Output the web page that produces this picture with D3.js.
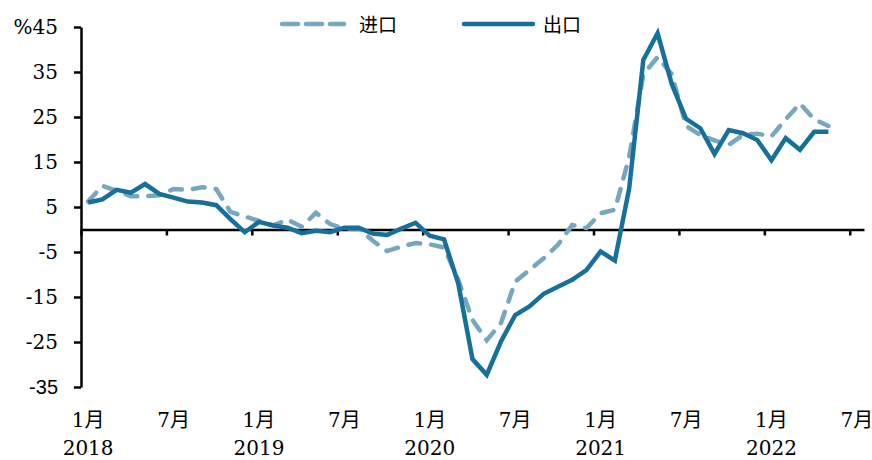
<!DOCTYPE html>
<html>
<head>
<meta charset="utf-8">
<script src="https://cdn.jsdelivr.net/npm/d3@7"></script>
<style>
  body { margin: 0; background: #fff; }
  svg { display: block; }
</style>
</head>
<body>
<div id="chart"></div>
<script>
// months on the category axis, Jan 2018 .. Jul 2022
var months = [
  "2018-01","2018-02","2018-03","2018-04","2018-05","2018-06","2018-07","2018-08","2018-09","2018-10","2018-11","2018-12",
  "2019-01","2019-02","2019-03","2019-04","2019-05","2019-06","2019-07","2019-08","2019-09","2019-10","2019-11","2019-12",
  "2020-01","2020-02","2020-03","2020-04","2020-05","2020-06","2020-07","2020-08","2020-09","2020-10","2020-11","2020-12",
  "2021-01","2021-02","2021-03","2021-04","2021-05","2021-06","2021-07","2021-08","2021-09","2021-10","2021-11","2021-12",
  "2022-01","2022-02","2022-03","2022-04","2022-05","2022-06","2022-07"
];

// 进口 (imports), Jan 2018 .. May 2022
var importVals = [
  6.2, 9.7, 8.6, 7.4, 7.4, 7.6, 9.0, 8.8, 9.4, 9.0, 3.9, 2.9,
  1.9, 0.9, 2.2, 0.6, 3.7, 1.2, 0.2, 0.3, -2.5, -4.8, -3.8, -3.0,
  -3.3, -4.0, -11.2, -20.1, -24.6, -20.8, -11.6, -9.0, -6.4, -3.4, 1.0, 0.3,
  3.6, 4.4, 16.0, 34.5, 38.3, 34.5, 23.0, 21.0, 19.8, 18.8, 21.0, 21.3,
  20.7, 24.5, 28.0, 24.5, 23.0
];

// 出口 (exports), Jan 2018 .. May 2022
var exportVals = [
  6.0, 6.7, 8.8, 8.2, 10.1, 7.9, 7.1, 6.2, 6.0, 5.4, 2.3, -0.6,
  1.7, 0.9, 0.4, -0.8, -0.3, -0.6, 0.4, 0.4, -0.9, -1.2, 0.2, 1.5,
  -1.4, -2.2, -12.0, -28.8, -32.3, -24.9, -19.0, -17.1, -14.3, -12.7, -11.2, -9.0,
  -4.9, -6.9, 9.0, 37.7, 43.6, 32.3, 24.6, 22.5, 16.8, 22.1, 21.4, 19.9,
  15.4, 20.3, 17.7, 21.7, 21.7
];

var yTicks = [45, 35, 25, 15, 5, -5, -15, -25, -35];
var xTickLabels = [
  {m: "2018-01", top: "1月", bottom: "2018"},
  {m: "2018-07", top: "7月", bottom: ""},
  {m: "2019-01", top: "1月", bottom: "2019"},
  {m: "2019-07", top: "7月", bottom: ""},
  {m: "2020-01", top: "1月", bottom: "2020"},
  {m: "2020-07", top: "7月", bottom: ""},
  {m: "2021-01", top: "1月", bottom: "2021"},
  {m: "2021-07", top: "7月", bottom: ""},
  {m: "2022-01", top: "1月", bottom: "2022"},
  {m: "2022-07", top: "7月", bottom: ""}
];

var seriesNames = ["进口", "出口"];
var colors = {imp: "#77a6bf", exp: "#17709b"};

var width = 872, height = 460;
var plot = {left: 81, right: 864, top: 27, bottom: 387};
var serif = "'DejaVu Serif', 'Noto Sans CJK SC', serif";

var svg = d3.select("#chart").append("svg")
  .attr("width", width)
  .attr("height", height);

var x = d3.scaleBand().domain(months).range([plot.left, plot.right]).padding(0);
var xEdge = d3.scaleLinear().domain([0, months.length]).range([plot.left, plot.right]);
var y = d3.scaleLinear().domain([-35, 45]).range([plot.bottom, plot.top]);

function cx(i) { return x(months[i]) + x.bandwidth() / 2; }

// y axis
var yAxis = svg.append("g")
  .attr("transform", "translate(" + plot.left + ",0)")
  .call(d3.axisLeft(y).tickValues(yTicks).tickSize(7).tickSizeOuter(0)
    .tickFormat(function(d) { return d === 45 ? "%45" : d; }));
yAxis.select(".domain").attr("stroke", "#000").attr("stroke-width", 2.5);
yAxis.selectAll(".tick line").attr("stroke", "#000").attr("stroke-width", 2.5);
yAxis.selectAll(".tick text")
  .attr("x", -23)
  .attr("dy", "0.34em")
  .attr("fill", "#000")
  .style("font-family", function(d) { return d === -35 ? "'Liberation Sans', sans-serif" : serif; })
  .style("font-size", "20px");

// zero line with ticks at every 6 months (tick marks sit on month edges)
var edgeTicks = d3.range(0, months.length, 6);
var xAxis = svg.append("g")
  .attr("transform", "translate(0," + y(0) + ")")
  .call(d3.axisBottom(xEdge).tickValues(edgeTicks).tickSize(6).tickSizeOuter(0).tickFormat(""));
xAxis.select(".domain").attr("stroke", "#000").attr("stroke-width", 2.5);
xAxis.selectAll(".tick line").attr("stroke", "#000").attr("stroke-width", 2.5);

// month / year labels, centered on the month
var lab = svg.append("g").selectAll("g")
  .data(xTickLabels)
  .enter().append("g")
  .attr("transform", function(d) { return "translate(" + (x(d.m) + x.bandwidth() / 2) + ",0)"; })
  .style("font-family", serif)
  .style("font-size", "20px")
  .attr("text-anchor", "middle");
lab.append("text").attr("y", 427).text(function(d) { return d.top; });
lab.append("text").attr("y", 455).text(function(d) { return d.bottom; });

// lines
var line = d3.line()
  .x(function(d, i) { return cx(i); })
  .y(function(d) { return y(d); });

svg.append("path")
  .datum(importVals)
  .attr("fill", "none")
  .attr("stroke", colors.imp)
  .attr("stroke-width", 4.5)
  .attr("stroke-dasharray", "12,11")
  .attr("stroke-linecap", "round")
  .attr("d", line);

svg.append("path")
  .datum(exportVals)
  .attr("fill", "none")
  .attr("stroke", colors.exp)
  .attr("stroke-width", 4.5)
  .attr("d", line);

// legend
var legend = svg.append("g");
legend.append("line")
  .attr("x1", 282).attr("x2", 344).attr("y1", 24).attr("y2", 24)
  .attr("stroke", colors.imp).attr("stroke-width", 4.5)
  .attr("stroke-dasharray", "16,8").attr("stroke-linecap", "round");
legend.append("text")
  .attr("x", 359).attr("y", 32)
  .style("font-family", serif).style("font-size", "19px")
  .text(seriesNames[0]);
legend.append("line")
  .attr("x1", 464).attr("x2", 533).attr("y1", 24).attr("y2", 24)
  .attr("stroke", colors.exp).attr("stroke-width", 4.5)
  .attr("stroke-linecap", "round");
legend.append("text")
  .attr("x", 543).attr("y", 32)
  .style("font-family", serif).style("font-size", "19px")
  .text(seriesNames[1]);
</script>
</body>
</html>
